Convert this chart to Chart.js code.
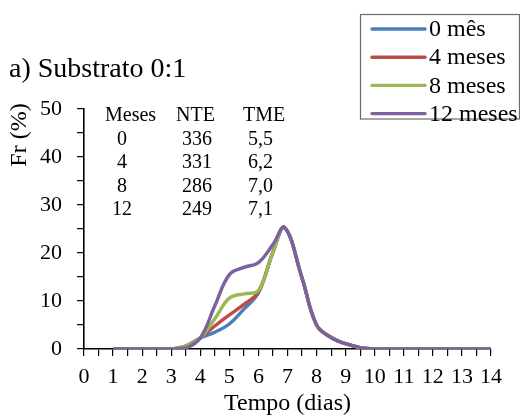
<!DOCTYPE html>
<html>
<head>
<meta charset="utf-8">
<script src="https://cdn.jsdelivr.net/npm/chart.js@4/dist/chart.umd.min.js"></script>
<style>
  html, body { margin: 0; padding: 0; background: #fff; }
  #wrap { width: 520px; height: 418px; position: relative; }
</style>
</head>
<body>
<div id="wrap"><canvas id="chart" width="520" height="418"></canvas></div>
<script>
// Sampling days (x) and relative frequency Fr (%) of germination per storage period
const days = [1, 1.5, 2, 2.5, 3, 3.5, 4, 4.5, 5, 5.5, 6, 6.5, 6.9, 7.5, 8, 8.5, 9, 9.5, 10, 10.5, 11, 11.5, 12, 12.5, 13, 13.5, 14];
const fr0m  = [0, 0, 0, 0, 0, 0.6, 2.3, 3.5, 5.2, 8.3, 11.7, 20.2, 25.3, 14.8, 5.0, 2.4, 1.1, 0.3, 0, 0, 0, 0, 0, 0, 0, 0, 0];
const fr4m  = [0, 0, 0, 0, 0, 0.6, 2.3, 4.8, 7.1, 9.3, 11.9, 20.2, 25.3, 14.8, 5.0, 2.4, 1.1, 0.3, 0, 0, 0, 0, 0, 0, 0, 0, 0];
const fr8m  = [0, 0, 0, 0, 0, 0.6, 2.3, 6.3, 10.6, 11.5, 12.2, 20.2, 25.3, 14.8, 5.0, 2.4, 1.1, 0.3, 0, 0, 0, 0, 0, 0, 0, 0, 0];
const fr12m = [0, 0, 0, 0, 0, 0.2, 2.3, 9.0, 15.5, 17.0, 18.0, 21.8, 25.3, 14.8, 5.0, 2.4, 1.1, 0.3, 0, 0, 0, 0, 0, 0, 0, 0, 0];

const seriesLabels = ['0 mês', '4 meses', '8 meses', '12 meses'];
const seriesColors = ['#4A7EBB', '#BE4B48', '#98B954', '#7D60A0'];

// Summary table: storage months, NTE and TME
const tableMonths = ['0', '4', '8', '12'];
const tableNTE = ['336', '331', '286', '249'];
const tableTME = ['5,5', '6,2', '7,0', '7,1'];

const panelTitle = 'a) Substrato 0:1';
const yTitle = 'Fr (%)';
const xTitle = 'Tempo (dias)';

const serif = "'Liberation Serif', 'Times New Roman', serif";

function toPoints(vals) {
  return vals.map((v, i) => ({ x: days[i], y: v }));
}

const allSeries = [fr0m, fr4m, fr8m, fr12m];
const datasets = allSeries.map((vals, i) => ({
  label: seriesLabels[i],
  data: toPoints(vals),
  borderColor: seriesColors[i],
  backgroundColor: seriesColors[i],
  borderWidth: 3.4,
  pointRadius: 0,
  tension: 0.4,
  fill: false,
  order: allSeries.length - i
}));

const overlay = {
  id: 'overlay',
  afterDraw(chart) {
    const ctx = chart.ctx;
    ctx.save();
    ctx.fillStyle = '#000';

    // panel title
    ctx.font = '28px ' + serif;
    ctx.textAlign = 'left';
    ctx.textBaseline = 'alphabetic';
    ctx.fillText(panelTitle, 9, 77);

    // y axis title
    ctx.save();
    ctx.translate(20, 135);
    ctx.rotate(-Math.PI / 2);
    ctx.font = '24px ' + serif;
    ctx.textAlign = 'center';
    ctx.textBaseline = 'middle';
    ctx.fillText(yTitle, 0, 0);
    ctx.restore();

    // summary table
    ctx.font = '20px ' + serif;
    ctx.textBaseline = 'alphabetic';
    const rowY0 = 121, rowStep = 23.6;
    ctx.textAlign = 'left';
    ctx.fillText('Meses', 105, rowY0);
    ctx.fillText('NTE', 176, rowY0);
    ctx.fillText('TME', 243, rowY0);
    tableMonths.forEach((m, i) => {
      const y = rowY0 + rowStep * (i + 1);
      ctx.textAlign = 'center';
      ctx.fillText(m, 122, y);
      ctx.textAlign = 'left';
      ctx.fillText(tableNTE[i], 182, y);
      ctx.fillText(tableTME[i], 248, y);
    });

    // legend box
    ctx.strokeStyle = '#6b6b6b';
    ctx.lineWidth = 1.2;
    ctx.strokeRect(360.5, 14.5, 159, 104.5);
    ctx.font = '24px ' + serif;
    ctx.textAlign = 'left';
    ctx.textBaseline = 'middle';
    chart.data.datasets.forEach((ds, i) => {
      const y = 29 + i * 28.2;
      ctx.strokeStyle = ds.borderColor;
      ctx.lineWidth = 3.4;
      ctx.lineCap = 'round';
      ctx.beginPath();
      ctx.moveTo(372, y);
      ctx.lineTo(425, y);
      ctx.stroke();
      ctx.fillStyle = '#000';
      ctx.fillText(ds.label, 429, y + 1);
    });
    ctx.restore();
  }
};

new Chart(document.getElementById('chart'), {
  type: 'line',
  data: { datasets },
  options: {
    responsive: false,
    animation: false,
    events: [],
    layout: { padding: { top: 109, right: 29, left: 0, bottom: 0 } },
    plugins: {
      legend: { display: false },
      tooltip: { enabled: false },
      title: { display: false }
    },
    scales: {
      x: {
        type: 'linear',
        min: 0,
        max: 14,
        afterFit(scale) { scale.height = 69; },
        border: { display: true, color: '#000', width: 1.6 },
        grid: {
          display: true,
          drawOnChartArea: false,
          drawTicks: true,
          tickLength: 7,
          color: '#000',
          lineWidth: 1.2
        },
        ticks: {
          stepSize: 0.5,
          autoSkip: false,
          maxRotation: 0,
          padding: 8,
          color: '#000',
          font: { family: serif, size: 22 },
          callback: (v) => (Number.isInteger(v) ? String(v) : '')
        },
        title: {
          display: true,
          text: xTitle,
          color: '#000',
          font: { family: serif, size: 24 },
          padding: { top: 0, bottom: 0 }
        }
      },
      y: {
        type: 'linear',
        min: 0,
        max: 50,
        afterFit(scale) { scale.width = 84; },
        border: { display: true, color: '#000', width: 1.6 },
        grid: {
          display: true,
          drawOnChartArea: false,
          drawTicks: true,
          tickLength: 7,
          color: '#000',
          lineWidth: 1.2
        },
        ticks: {
          stepSize: 5,
          autoSkip: false,
          padding: 15,
          color: '#000',
          font: { family: serif, size: 22 },
          callback: (v) => (v % 10 === 0 ? String(v) : '')
        }
      }
    }
  },
  plugins: [overlay]
});
</script>
</body>
</html>
